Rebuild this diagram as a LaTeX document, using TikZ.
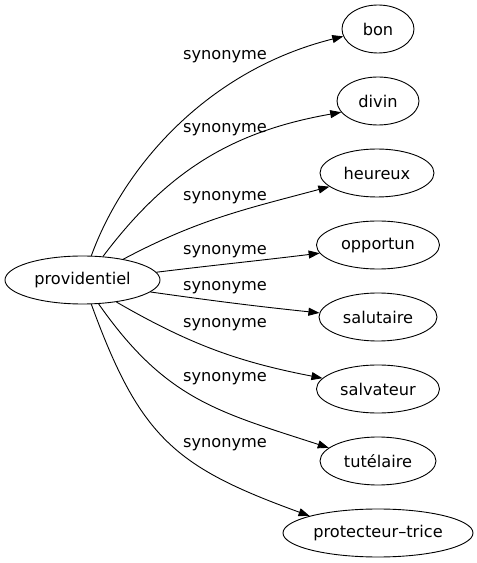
\documentclass[tikz,border=0pt]{standalone}
\usepackage{fontspec}
\setmainfont{DejaVu Sans}
\usetikzlibrary{shapes.geometric,arrows.meta}
\begin{document}
\begin{tikzpicture}[x=1pt,y=1pt,
  every node/.style={font=\fontsize{16.2}{19}\selectfont},
  word/.style={draw,ellipse,inner sep=0pt,line width=0.9pt,minimum height=48pt},
  lab/.style={inner sep=0pt},
  edge/.style={line width=0.9pt,-{Triangle[length=11pt,width=8pt]}}]
\useasboundingbox (0,0) rectangle (477,563);
\node[word,minimum width=155pt] (p) at (82.5,283) {providentiel};
\node[word,minimum width=72pt] (bon) at (378,534) {bon};
\node[word,minimum width=82pt] (divin) at (378,462) {divin};
\node[word,minimum width=114pt] (heureux) at (377,390) {heureux};
\node[word,minimum width=123pt] (opportun) at (378,318) {opportun};
\node[word,minimum width=118pt] (salutaire) at (378,246) {salutaire};
\node[word,minimum width=123pt] (salvateur) at (378,174) {salvateur};
\node[word,minimum width=116pt] (tutelaire) at (378,102) {tutélaire};
\node[word,minimum width=190pt] (protecteur) at (378,30) {protecteur–trice};
\node[lab] (l1) at (225,506) {synonyme};
\node[lab] (l2) at (225,433) {synonyme};
\node[lab] (l3) at (225,365) {synonyme};
\node[lab] (l4) at (225,311) {synonyme};
\node[lab] (l5) at (225,275) {synonyme};
\node[lab] (l6) at (225,238) {synonyme};
\node[lab] (l7) at (225,184) {synonyme};
\node[lab] (l8) at (225,118) {synonyme};
\draw[edge] (p.70) to[out=70,in=194,out distance=95pt,in distance=140pt] (bon.192);
\draw[edge] (p.49) to[out=53,in=190] (divin.197);
\draw[edge] (p.27) to[out=28,in=195] (heureux.196);
\draw[edge] (p.6) to[out=7,in=187] (opportun.188);
\draw[edge] (p.-10) to[out=-8,in=174] (salutaire.176);
\draw[edge] (p.-33) to[out=-30,in=169] (salvateur.169);
\draw[edge] (p.-56) to[out=-55,in=162,looseness=1.1] (tutelaire.165);
\draw[edge] (p.-70) to[out=-70,in=160,looseness=1.2] (protecteur.166);
\end{tikzpicture}
\end{document}
